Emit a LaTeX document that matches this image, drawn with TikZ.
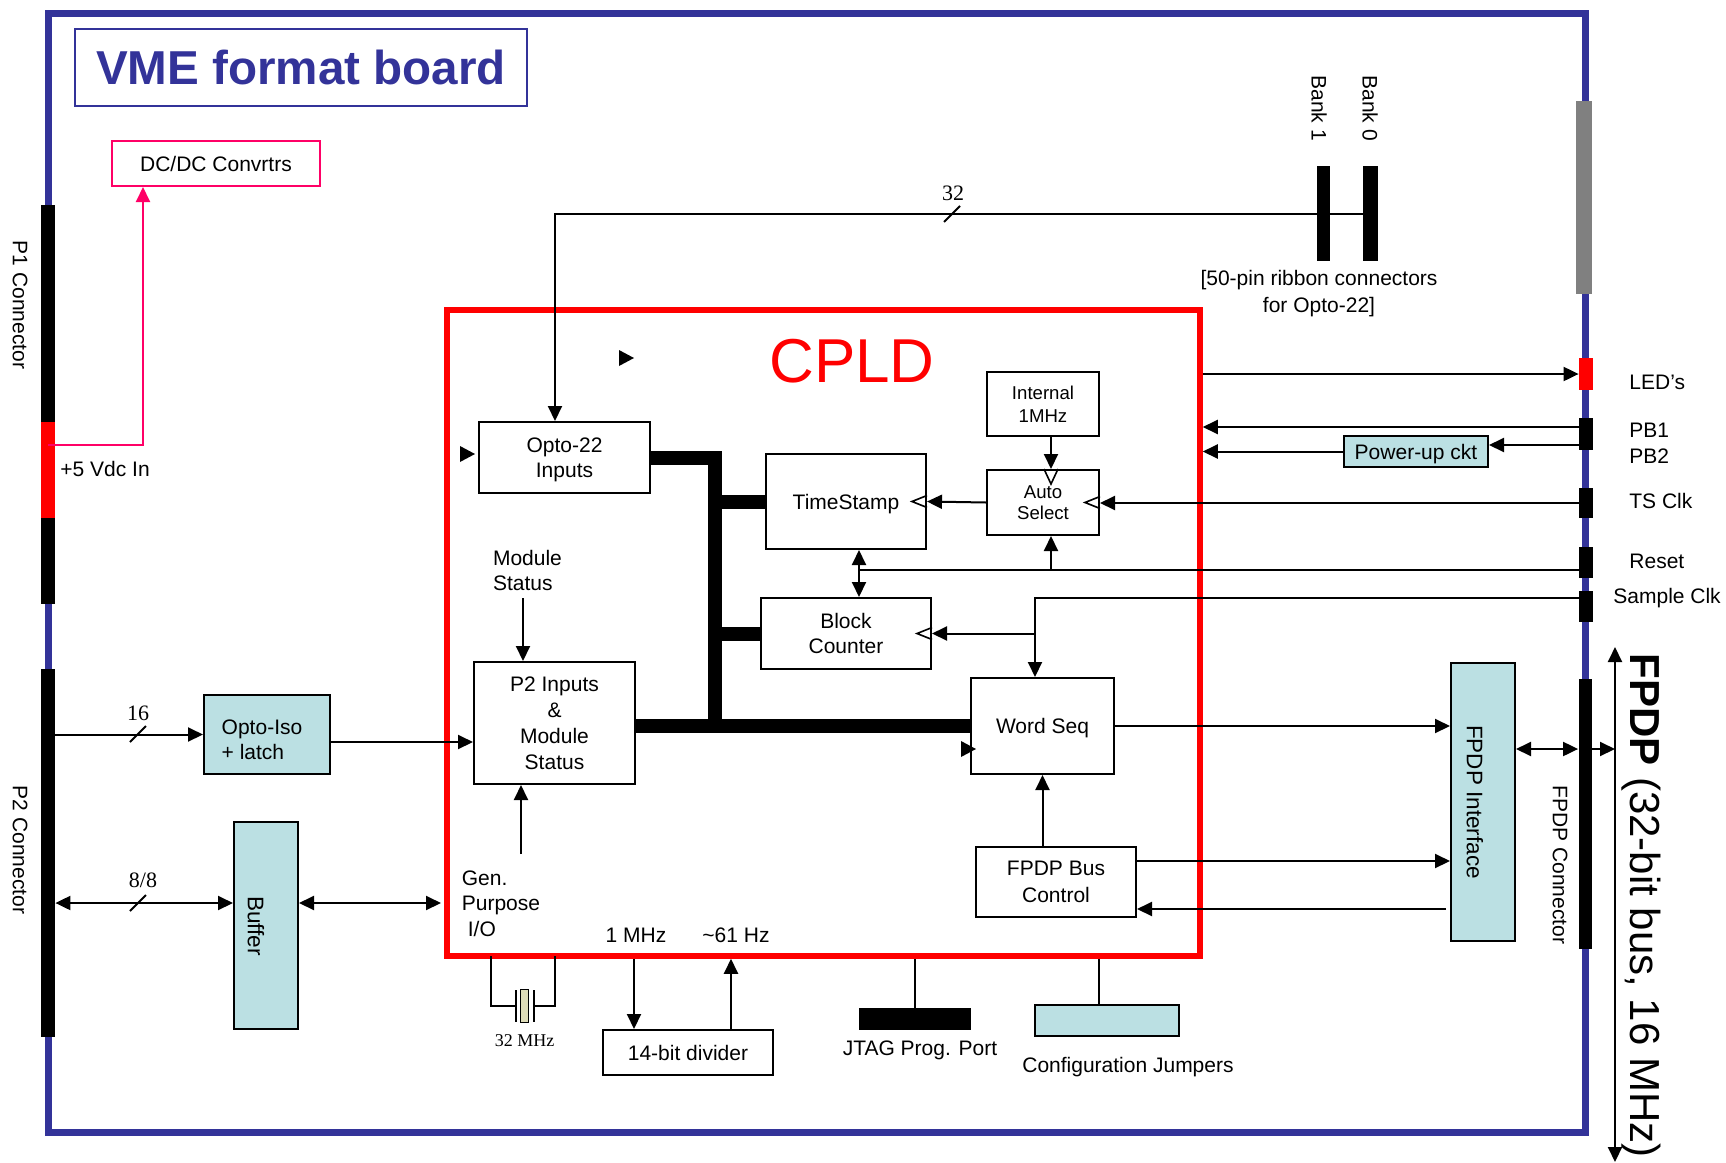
\documentclass[tikz,border=0pt]{standalone}
\usepackage{fontspec}
\setmainfont{Liberation Sans}
\newfontfamily\timesfont{Liberation Serif}
\definecolor{vmeBlue}{HTML}{333399}
\definecolor{cpldRed}{HTML}{FF0000}
\definecolor{pwrPink}{HTML}{FF0066}
\definecolor{boardCyan}{HTML}{BBE0E3}
\definecolor{xtalTan}{HTML}{DEDCB8}
\definecolor{vmeGray}{HTML}{808080}
\usetikzlibrary{arrows.meta,positioning}

\begin{document}
\begin{tikzpicture}[
        x=0.5pt, y=-0.5pt,
        font=\fontsize{10.5}{12.75}\selectfont,
        box/.style={draw, line width=1pt, align=center, inner sep=0pt, text depth=0pt},
        cyanbox/.style={box, fill=boardCyan},
        conn/.style={fill=black, inner sep=0pt, minimum width=7pt},
        lbl/.style={inner sep=0pt, align=left},
        num/.style={inner sep=0pt, font=\timesfont\fontsize{11}{13}\selectfont},
        wire/.style={line width=1pt},
        arr/.style={wire, -{Triangle[length=7.5pt, width=7pt]}},
        darr/.style={wire, {Triangle[length=7.5pt, width=7pt]}-{Triangle[length=7.5pt, width=7pt]}},
        bus/.style={line width=7pt},
        clk/.style={line width=0.8pt}
      ]
        \useasboundingbox (0,0) rectangle (1726,1163);
        \draw[vmeBlue, line width=3.5pt] (48,13) rectangle (1585,1132);
        \node[box, draw=vmeBlue, minimum width=226pt, minimum height=38.5pt, text=vmeBlue,
              font=\bfseries\fontsize{23.8}{28}\selectfont] (title) at (301,67.5) {VME format board};
        \node[box, draw=pwrPink, minimum width=104pt, minimum height=22.5pt] (dcdc) at (216,163.5) {DC/DC Convrtrs};

        \node[conn, minimum height=199.5pt] (p1) at (48,404.5) {};
        \node[conn, fill=cpldRed, minimum height=48pt] (p1pwr) at (48,470) {};
        \node[conn, minimum height=184pt] (p2) at (48,853) {};
        \node[rotate=-90] (p1lbl) at (20,305) {P1 Connector};
        \node[rotate=-90] (p2lbl) at (20,850) {P2 Connector};
        \node[lbl, anchor=west] (pwrlbl) at (60,469) {+5 Vdc In};

        \node[conn, minimum width=6.5pt, minimum height=47.5pt] (bank1) at (1323.5,213.5) {};
        \node[conn, minimum width=7.5pt, minimum height=47.5pt] (bank0) at (1370.5,213.5) {};
        \node[rotate=-90, anchor=west, inner sep=0pt] (bank1lbl) at (1319,75) {Bank 1};
        \node[rotate=-90, anchor=west, inner sep=0pt] (bank0lbl) at (1370,75) {Bank 0};
        \node[align=center, inner sep=0pt, font=\fontsize{10.5}{13.5}\selectfont] (ribbon) at (1319,293.5)
              {[50-pin ribbon connectors\\for Opto-22]};
        \node[conn, fill=vmeGray, minimum width=8pt, minimum height=96.5pt] (vmeconn) at (1584,197.5) {};

        \node[conn, fill=cpldRed, minimum height=16pt] (led) at (1586,374) {};
        \node[conn, minimum height=16pt] (pb) at (1586,434) {};
        \node[conn, minimum height=15pt] (tsclk) at (1586,503) {};
        \node[conn, minimum height=15.5pt] (rst) at (1586,562.5) {};
        \node[conn, minimum height=15.5pt] (sclk) at (1586,606.5) {};
        \node[conn, minimum width=6.5pt, minimum height=135pt] (fpdpconn) at (1585,813.5) {};
        \node[lbl, anchor=west] (ledlbl) at (1629,382) {LED’s};
        \node[lbl, anchor=west] (pb1lbl) at (1629,430) {PB1};
        \node[lbl, anchor=west] (pb2lbl) at (1629,456) {PB2};
        \node[lbl, anchor=west] (tslbl) at (1629,501) {TS Clk};
        \node[lbl, anchor=west] (rstlbl) at (1629,561) {Reset};
        \node[lbl, anchor=west] (sclklbl) at (1613,598) {Sample Clk};
        \node[rotate=-90] (fpdpconnlbl) at (1560,865) {FPDP Connector};

        \node[draw=cpldRed, line width=2.75pt, minimum width=376.5pt, minimum height=323pt] (cpld) at (823.5,633) {};
        \node[text=cpldRed, inner sep=0pt, font=\fontsize{31}{36}\selectfont] (cpldlbl) at (852,361) {CPLD};

        \node[box, minimum width=85.5pt, minimum height=35.5pt] (opto22) at (564.5,457.5) {Opto-22\\Inputs};
        \node[box, minimum width=80pt, minimum height=47.5pt] (tstamp) at (846,501.5) {TimeStamp};
        \node[box, minimum width=56pt, minimum height=32pt, font=\fontsize{9.3}{11.5}\selectfont] (int1mhz) at (1043,404) {Internal\\1MHz};
        \node[box, minimum width=56pt, minimum height=32.5pt, font=\fontsize{9.3}{10.75}\selectfont] (autosel) at (1043,502.5) {Auto\\Select};
        \node[box, minimum width=85pt, minimum height=35.5pt] (blkcnt) at (846,633.5) {Block\\Counter};
        \node[box, minimum width=71.5pt, minimum height=48pt] (wordseq) at (1042.5,726) {Word Seq};
        \node[box, minimum width=80pt, minimum height=35pt, font=\fontsize{10.5}{13.5}\selectfont] (busctl) at (1056,882) {FPDP Bus\\Control};
        \node[box, minimum width=80.5pt, minimum height=61pt, font=\fontsize{10.5}{13}\selectfont] (p2in) at (554.5,723) {P2 Inputs\\\&\\Module\\Status};
        \node[lbl] (modst) at (527.5,570.5) {Module\\Status};
        \node[lbl] (gplbl) at (501,903.5) {Gen.\\Purpose\\\hspace*{3pt}I/O};
        \node[lbl] (mhzlbl) at (636,935) {1 MHz};
        \node[lbl] (hzlbl) at (736,935) {\textasciitilde 61 Hz};

        \node[cyanbox, minimum width=63pt, minimum height=39.5pt,
              label={[lbl, xshift=-2.5pt, yshift=-2.75pt]center:{Opto-Iso\\+ latch}}] (optoiso) at (267,734.5) {};
        \node[cyanbox, minimum width=32pt, minimum height=103.5pt] (buffer) at (266,925.5) {};
        \node[rotate=-90, font=\fontsize{11.3}{13}\selectfont] (buflbl) at (256,926) {Buffer};
        \node[cyanbox, minimum width=32pt, minimum height=139pt] (fpdpif) at (1483,801.5) {};
        \node[rotate=-90, font=\fontsize{11.25}{13}\selectfont] (fpdpiflbl) at (1475,802) {FPDP Interface};
        \node[cyanbox, minimum width=72pt, minimum height=15.5pt] (powerup) at (1416,451.5) {Power-up ckt};
        \node[box, minimum width=85pt, minimum height=22.5pt] (divider) at (688,1052.5) {14-bit divider};
        \node[conn, minimum width=56pt, minimum height=11pt] (jtag) at (915,1019) {};
        \node[inner sep=0pt, below=5pt of jtag, xshift=2.5pt] (jtaglbl) {JTAG Prog. Port};
        \node[cyanbox, minimum width=72pt, minimum height=15.5pt] (jumpers) at (1107,1020.5) {};
        \node[inner sep=0pt, below=10pt of jumpers, xshift=10.5pt] (jumplbl) {Configuration Jumpers};
        \node[draw, fill=xtalTan, line width=0.8pt, minimum width=4pt, minimum height=16.5pt, inner sep=0pt] (xtal) at (524.5,1006) {};
        \node[num, font=\timesfont\fontsize{9}{11}\selectfont, below=5.5pt of xtal] (xtallbl) {32 MHz};

        \node[num] (n16) at (138,713) {16};
        \node[num] (n88) at (143,880) {8/8};
        \node[num] (n32) at (953,193) {32};

        \coordinate (pwrtap) at (143,445);
        \coordinate (gpio) at (441,903);
        \coordinate (modtap) at (523,598);
        \coordinate (gpup) at (521,854);
        \coordinate (busjoin) at (715,726);
        \coordinate (rsttap) at (859,570);
        \coordinate (sclktap) at (1035,598);
        \coordinate (fpdplink) at (1615,749);
        \coordinate (fpdptop) at (1615,647);
        \coordinate (fpdpend) at (1615,1162);

        \draw[arr, pwrPink] (p1pwr.center |- pwrtap) -- (pwrtap) -- (pwrtap |- dcdc.south);
        \draw[arr] (bank0.west) -| ([xshift=-4.75pt]opto22.north);
        \draw[arr] (p2.east |- optoiso.west) -- (optoiso.west);
        \draw[arr] ([yshift=-3.75pt]optoiso.east) -- ([yshift=-3.75pt]optoiso.east -| p2in.west);
        \draw[darr] (p2.east |- gpio) -- (buffer.west |- gpio);
        \draw[darr] (buffer.east |- gpio) -- (gpio);
        \draw[arr] (modtap) -- (modtap |- p2in.north);
        \draw[arr] (gpup) -- (gpup |- p2in.south);

        \draw[bus] (opto22.east) -| (busjoin);
        \draw[bus] (p2in.east |- wordseq.west) -- (wordseq.west);
        \draw[bus] (busjoin |- tstamp.west) -- (tstamp.west);
        \draw[bus] (busjoin |- blkcnt.west) -- (blkcnt.west);

        \draw[arr] ([xshift=4pt]int1mhz.south) -- ([xshift=4pt]autosel.north);
        \draw[arr] (autosel.west) -- (tstamp.east);
        \draw[arr] (tsclk.west) -- (tsclk.west -| autosel.east);
        \draw[wire] (rst.west |- rsttap) -- (rsttap);
        \draw[darr] (tstamp.south -| rsttap) -- (blkcnt.north -| rsttap);
        \draw[arr] ([xshift=4pt]autosel.south |- rsttap) -- ([xshift=4pt]autosel.south);
        \draw[arr] (sclk.west |- sclktap) -| (wordseq.north -| sclktap);
        \draw[arr] (sclktap |- blkcnt.east) -- (blkcnt.east);

        \draw[arr] (cpld.east |- led.west) -- (led.west);
        \draw[arr] ([yshift=3.5pt]pb.west) -- ([yshift=3.5pt]pb.west -| cpld.east);
        \draw[arr] ([yshift=-5.5pt]pb.west) -- ([yshift=-5.5pt]pb.west -| powerup.east);
        \draw[arr] (powerup.west) -- (powerup.west -| cpld.east);

        \draw[arr] (wordseq.east) -- (wordseq.east -| fpdpif.west);
        \draw[arr] (wordseq.south |- busctl.north) -- (wordseq.south);
        \draw[arr] ([yshift=10.5pt]busctl.east) -- ([yshift=10.5pt]busctl.east -| fpdpif.west);
        \draw[arr] ([yshift=-13.5pt,xshift=-2pt]busctl.east -| fpdpif.west) -- ([yshift=-13.5pt]busctl.east);
        \draw[darr] (fpdpif.east |- fpdplink) -- (fpdpconn.west |- fpdplink);
        \draw[arr] (fpdpconn.east |- fpdplink) -- (fpdplink);
        \draw[darr] (fpdptop) -- (fpdpend);
        \node[rotate=-90, anchor=base west, inner sep=0pt, font=\fontsize{21}{25}\selectfont] (fpdplbl) at (1630,653)
              {\textbf{FPDP} (32-bit bus, 16 MHz)};

        \draw[arr] ([xshift=-27pt]divider.north |- cpld.south) -- ([xshift=-27pt]divider.north);
        \draw[arr] ([xshift=21.5pt]divider.north) -- ([xshift=21.5pt]divider.north |- cpld.south);
        \draw[wire] (jtag.north |- cpld.south) -- (jtag.north);
        \draw[wire] ([xshift=-4pt]jumpers.north |- cpld.south) -- ([xshift=-4pt]jumpers.north);
        \draw[wire] (xtal.center) ++(-9,0) -- ++(-24.5,0) -- ++(0,-50);
        \draw[wire] (xtal.center) ++(9,0) -- ++(21.5,0) -- ++(0,-50);
        \draw[wire] (xtal.center) ++(-9,-16) -- ++(0,32);
        \draw[wire] (xtal.center) ++(9,-16) -- ++(0,32);

        \foreach \n in {tstamp, autosel, blkcnt}
          \draw[clk] (\n.east) ++(0,-6) -- ++(-15,6) -- ++(15,6);
        \draw[clk] ([xshift=4pt]autosel.north) ++(-7,0) -- ++(7,15) -- ++(7,-15);
        \foreach \p in {(626,358), (467,454), (968,749)}
          \fill \p ++(-7,-8) -- ++(15,8) -- ++(-15,8) -- cycle;
        \foreach \t in {(138,734), (138,903), (952,214)}
          \draw[wire] \t ++(-8,8) -- ++(16,-16);
      \end{tikzpicture}
\end{document}
